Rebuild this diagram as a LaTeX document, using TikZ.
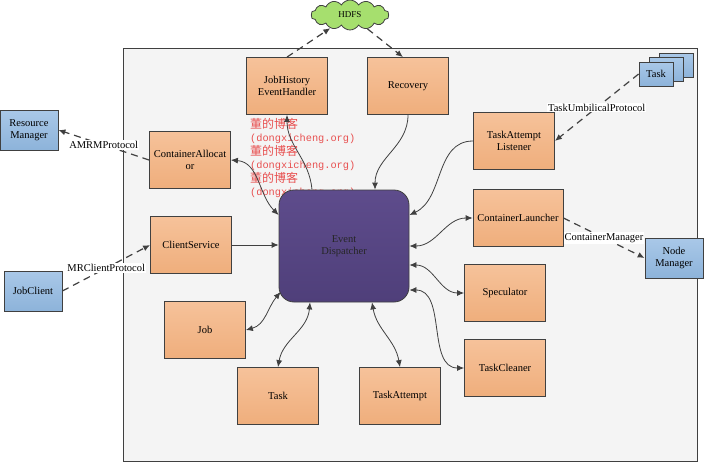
\documentclass[tikz,border=0pt]{standalone}
\usepackage{fontspec}
\setmainfont{Liberation Serif}
\setmonofont{Liberation Mono}
\newfontfamily\cjk{Noto Sans CJK SC}
\usepackage{xcolor}
\usepackage{tikz}
\usetikzlibrary{positioning, shapes, shapes.symbols, arrows.meta, backgrounds}

\definecolor{linegray}{HTML}{404040}
\definecolor{boxtop}{HTML}{F6C29A}
\definecolor{boxbot}{HTML}{EFAE7C}
\definecolor{exttop}{HTML}{A9C8E8}
\definecolor{extbot}{HTML}{8DB3DA}
\definecolor{disptop}{HTML}{5E4C8C}
\definecolor{dispbot}{HTML}{4F3F7A}
\definecolor{cloudgreen}{HTML}{A6DF6E}
\definecolor{panel}{HTML}{F4F4F4}
\definecolor{markred}{HTML}{E85050}

\begin{document}
\begin{tikzpicture}[x=1pt, y=-1pt, font=\fontsize{10.5}{12}\selectfont,
        block/.style={rectangle, draw=linegray, line width=0.8pt, top color=boxtop, bottom color=boxbot, minimum width=81pt, minimum height=57pt, align=center, inner sep=1pt},
        ext/.style={rectangle, draw=linegray, line width=0.8pt, top color=exttop, bottom color=extbot, minimum width=58pt, minimum height=40pt, align=center, inner sep=1pt},
        tiny/.style={ext, minimum width=34pt, minimum height=24pt},
        link/.style={draw=linegray, line width=0.8pt, -{Latex[length=7pt, width=6pt]}},
        both/.style={draw=linegray, line width=0.8pt, {Latex[length=7pt, width=6pt]}-{Latex[length=7pt, width=6pt]}},
        proto/.style={link, line width=1.2pt, dash pattern=on 7pt off 5pt},
        plabel/.style={fill=white, inner sep=1pt}]

        \useasboundingbox[fill=white] (0,0) rectangle (705,463);

        % application master
        \node[rectangle, draw=linegray, line width=0.8pt, fill=panel, minimum width=574pt, minimum height=413pt] (am) at (410,254.5) {};

        \node[anchor=north west, align=left, text=markred, inner sep=0pt, font=\fontsize{10.3}{13.5}\selectfont\ttfamily] (mark) at (250,118)
            {{\cjk\fontsize{12}{13.5}\selectfont 董的博客}\\(dongxicheng.org)\\{\cjk\fontsize{12}{13.5}\selectfont 董的博客}\\(dongxicheng.org)\\{\cjk\fontsize{12}{13.5}\selectfont 董的博客}\\(dongxicheng.org)};

        \node[cloud, cloud puffs=14, cloud puff arc=120, aspect=2.6, draw=linegray, line width=0.8pt, fill=cloudgreen, minimum width=78pt, minimum height=30pt, inner sep=0pt, font=\fontsize{9}{10}\selectfont] (hdfs) at (350,15) {HDFS};

        \node[block] (jh) at (287,86) {JobHistory\\EventHandler};
        \node[block] (rec) at (408,86) {Recovery};
        \node[block] (alloc) at (190,160) {ContainerAllocat\\or};
        \node[block] (tl) at (514,141) {TaskAttempt\\Listener};
        \node[block] (client) at (191,245) {ClientService};
        \node[block, minimum width=90pt] (launch) at (518,218) {ContainerLauncher};
        \node[block] (spec) at (505,293) {Speculator};
        \node[block] (job) at (205,330) {Job};
        \node[block] (clean) at (505,368) {TaskCleaner};
        \node[block] (task) at (278,396) {Task};
        \node[block] (attempt) at (400,396) {TaskAttempt};

        \node[rectangle, rounded corners=15pt, draw=linegray, line width=0.8pt, top color=disptop, bottom color=dispbot, text=black!85, minimum width=130pt, minimum height=112pt, align=center] (disp) at (344,246) {Event\\Dispatcher};

        \node[ext] (rm) at (29,130) {Resource\\Manager};
        \node[ext] (jc) at (33,291) {JobClient};
        \node[ext] (nm) at (674,258) {Node\\Manager};
        \node[tiny] (tback) at (676,65) {};
        \node[tiny] (tmid) at (666,69.5) {};
        \node[tiny] (tfront) at (656,74) {Task};

        \draw[proto] (jh.north) -- (hdfs);
        \draw[proto] (hdfs) -- ([xshift=-5pt]rec.north);
        \draw[link] (rec.south) to[out=-90, in=90] ([xshift=31pt]disp.north);
        \draw[link] ([xshift=-32pt]disp.north) to[out=95, in=-90] (jh.south);

        \draw[both] (alloc.east) to[out=-5, in=135] ([yshift=31pt]disp.west);
        \draw[link] (client.east) -- (client.east -| disp.west);
        \draw[both] (job.east) to[out=15, in=-130] ([xshift=2pt, yshift=-46pt]disp.west);
        \draw[both] (task.north) to[out=80, in=-95] ([xshift=-34pt]disp.south);
        \draw[both] (attempt.north) to[out=100, in=-80] ([xshift=28pt]disp.south);

        \draw[link] (tl.west) to[out=180, in=25] ([yshift=31pt]disp.east);
        \draw[both] (launch.west) to[out=180, in=0] (disp.east);
        \draw[both] (spec.west) to[out=180, in=0] ([yshift=-19pt]disp.east);
        \draw[both] (clean.west) to[out=180, in=0] ([yshift=-44pt]disp.east);

        \draw[proto] (alloc.west) -- (rm.east) node[midway, plabel] {AMRMProtocol};
        \draw[proto] (jc.east) -- (client.west) node[midway, plabel] {MRClientProtocol};
        \draw[proto] (tfront.west) -- (tl.east) node[midway, plabel] {TaskUmbilicalProtocol};
        \draw[proto] (launch.east) -- (nm.west) node[midway, plabel] {ContainerManager};
\end{tikzpicture}
\end{document}
